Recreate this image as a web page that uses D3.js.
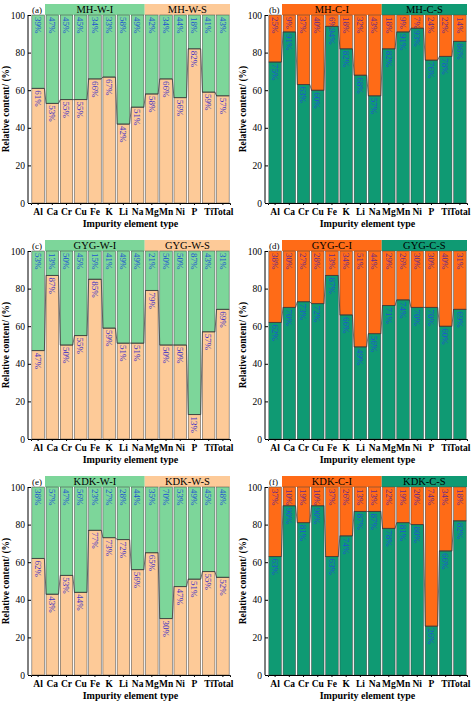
<!DOCTYPE html>
<html><head><meta charset="utf-8">
<script src="https://cdn.jsdelivr.net/npm/d3@7"></script>
<style>body{margin:0;background:#fff}</style>
</head><body>
<script>
const elements = ["Al","Ca","Cr","Cu","Fe","K","Li","Na","Mg","Mn","Ni","P","Ti","Total"];
const panelIds = ["(a)","(b)","(c)","(d)","(e)","(f)"];
const groupI = ["MH-W-I","MH-C-I","GYG-W-I","GYG-C-I","KDK-W-I","KDK-C-I"];
const groupS = ["MH-W-S","MH-C-S","GYG-W-S","GYG-C-S","KDK-W-S","KDK-C-S"];
const bottomA = [61,53,55,55,66,67,42,51,58,66,56,82,59,57];
const topA = [39,47,45,45,34,33,58,49,42,34,44,18,41,43];
const bottomB = [75,91,63,60,94,82,68,57,82,91,93,76,78,86];
const topB = [25,9,37,40,6,18,32,43,18,9,7,24,22,14];
const bottomC = [47,87,50,55,85,59,51,51,79,50,50,13,57,69];
const topC = [53,13,50,45,15,41,49,49,21,50,50,87,43,31];
const bottomD = [62,70,73,72,87,66,49,56,71,74,70,70,60,69];
const topD = [38,30,27,28,13,34,51,44,29,26,30,30,40,31];
const bottomE = [62,43,53,44,77,73,72,56,65,30,47,51,55,52];
const topE = [38,57,47,56,23,27,28,44,35,70,53,49,45,48];
const bottomF = [63,90,81,90,63,74,87,87,78,81,80,26,66,82];
const topF = [37,10,19,10,37,26,13,13,22,19,20,74,34,18];

const bottoms = [bottomA,bottomB,bottomC,bottomD,bottomE,bottomF];
const tops = [topA,topB,topC,topD,topE,topF];

const peach = "#fdca98", lgreen = "#7dd69a", orange = "#ff6b17", teal = "#0f9a73";
const font = "'Liberation Serif','Times New Roman',serif";

const svg = d3.select("body").append("svg").attr("width",474).attr("height",708);

const margin = {left:31, top:15, right:7, bottom:33};
const pw = 237, ph = 236;
const x = d3.scaleBand().domain(elements).range([margin.left, pw - margin.right]).paddingInner(0.12).paddingOuter(0.06);
const y = d3.scaleLinear().domain([0,100]).range([ph - margin.bottom, margin.top]);

for (let p = 0; p < 6; p++) {
  const wet = p % 2 === 0;
  const cBot = wet ? peach : teal, cTop = wet ? lgreen : orange;
  const g = svg.append("g").attr("transform", `translate(${(p%2)*237},${Math.floor(p/2)*236})`);
  const bot = bottoms[p], tp = tops[p];

  // header band
  const split = (x("Na") + x.bandwidth() + x("Mg")) / 2;
  g.append("rect").attr("x",45).attr("y",4).attr("width",split-45).attr("height",y(100)-4).attr("fill",cTop);
  g.append("rect").attr("x",split).attr("y",4).attr("width",pw-margin.right-split).attr("height",y(100)-4).attr("fill",cBot);
  g.append("text").attr("x",(45+split)/2).attr("y",13).attr("text-anchor","middle")
    .attr("font-family",font).attr("font-size",10.5).text(groupI[p]);
  g.append("text").attr("x",(split+pw-margin.right)/2).attr("y",13).attr("text-anchor","middle")
    .attr("font-family",font).attr("font-size",10.5).text(groupS[p]);
  g.append("text").attr("x",32).attr("y",12.5).attr("font-family",font).attr("font-size",9).text(panelIds[p]);

  elements.forEach((e,i) => {
    g.append("rect").attr("x",x(e)).attr("width",x.bandwidth()).attr("y",y(bot[i])).attr("height",y(0)-y(bot[i]))
      .attr("fill",cBot).attr("stroke","#444").attr("stroke-width",0.5);
    g.append("rect").attr("x",x(e)).attr("width",x.bandwidth()).attr("y",y(100)).attr("height",y(bot[i])-y(100))
      .attr("fill",cTop).attr("stroke","#444").attr("stroke-width",0.5);
    // labels
    g.append("text").attr("transform",`translate(${x(e)+x.bandwidth()/2-3.3},${y(bot[i])+2}) rotate(90)`)
      .attr("font-family",font).attr("font-size",9).attr("fill",wet ? "#4433c4" : "#1f55d0").text(bot[i]+"%");
    g.append("text").attr("transform",`translate(${x(e)+x.bandwidth()/2-3.3},${y(100)+2}) rotate(90)`)
      .attr("font-family",font).attr("font-size",9).attr("fill",wet ? "#1f55d0" : "#6a2a8a").text(tp[i]+"%");
  });
  // connecting lines
  const pts = [];
  elements.forEach((e,i) => { pts.push([x(e), y(bot[i])]); pts.push([x(e)+x.bandwidth(), y(bot[i])]); });
  g.append("path").attr("d", d3.line()(pts)).attr("fill","none").attr("stroke","#333").attr("stroke-width",0.7);

  const ya = g.append("g").attr("transform",`translate(${margin.left},0)`)
    .call(d3.axisLeft(y).tickValues([0,20,40,60,80,100]).tickSize(3));
  const xa = g.append("g").attr("transform",`translate(0,${y(0)})`).call(d3.axisBottom(x).tickSize(2));
  [ya,xa].forEach(a => { a.selectAll("text").attr("font-family",font).attr("font-size",9.5).attr("fill","#000"); a.select(".domain").attr("stroke","#000"); });
  xa.selectAll("text").attr("font-weight","bold");
  ya.select(".domain").attr("d",`M-3,${y(0)}V${y(100)}`);

  g.append("text").attr("transform",`translate(9,${(y(0)+y(100))/2}) rotate(-90)`).attr("text-anchor","middle")
    .attr("font-family",font).attr("font-size",9.5).attr("font-weight","bold").text("Relative content/ (%)");
  g.append("text").attr("x",(margin.left+pw-margin.right)/2).attr("y",ph-9).attr("text-anchor","middle")
    .attr("font-family",font).attr("font-size",10).attr("font-weight","bold").text("Impurity element type");
}
</script>
</body></html>
